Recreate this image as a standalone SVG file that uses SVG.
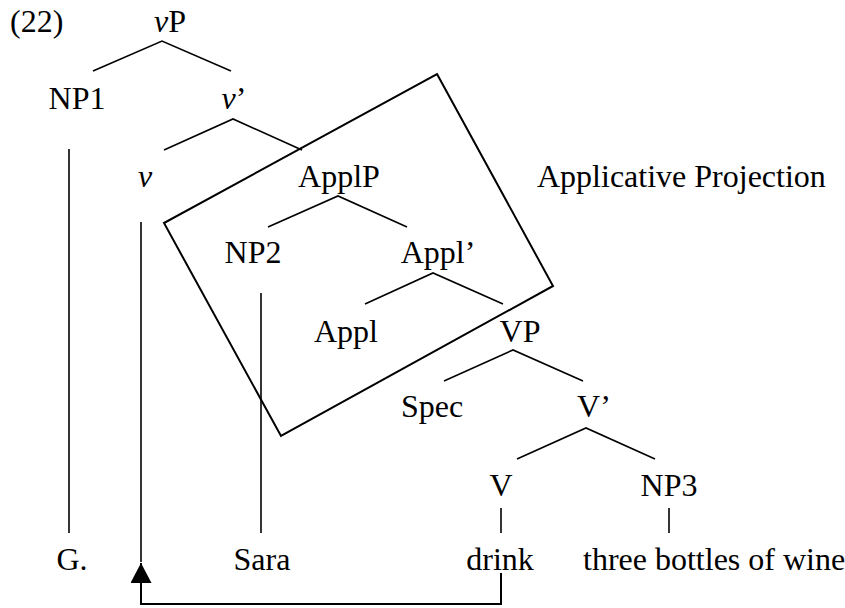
<svg xmlns="http://www.w3.org/2000/svg" width="845" height="608" viewBox="0 0 845 608">
  <style>
    text { font-family: 'Liberation Serif', 'Times New Roman', serif !important; font-size: 32px; fill: #000; }
    .c { text-anchor: middle; }
    .it { font-style: italic; }
  </style>
  <defs>
    <marker id="head" markerUnits="userSpaceOnUse" markerWidth="20" markerHeight="21" refX="20" refY="10.5" orient="auto">
      <path d="M0,0 L20,10.5 L0,21 Z" fill="#000"/>
    </marker>
  </defs>
  <rect width="845" height="608" fill="#fff"/>

  <text x="10" y="32" font-family="Liberation Serif, serif">(22)</text>

  <!-- applicative projection frame -->
  <g id="applicative-frame">
    <polygon points="437,74 553,286 281,436 164,223" fill="none" stroke="#000" stroke-width="2"/>
    <text x="537" y="187" font-family="Liberation Serif, serif">Applicative Projection</text>
  </g>

  <!-- tree nodes -->
  <g id="vP"><text class="c" x="170" y="32" font-family="Liberation Serif, serif"><tspan class="it">v</tspan>P</text></g>
  <g id="NP1"><text class="c" x="77" y="109" font-family="Liberation Serif, serif">NP1</text></g>
  <g id="v-bar"><text class="c" x="234" y="109" font-family="Liberation Serif, serif"><tspan class="it">v</tspan>&#8217;</text></g>
  <g id="v"><text class="c it" x="145" y="187" font-family="Liberation Serif, serif">v</text></g>
  <g id="ApplP"><text class="c" x="339" y="187" font-family="Liberation Serif, serif">ApplP</text></g>
  <g id="NP2"><text class="c" x="253" y="263" font-family="Liberation Serif, serif">NP2</text></g>
  <g id="Appl-bar"><text class="c" x="438" y="263" font-family="Liberation Serif, serif">Appl&#8217;</text></g>
  <g id="Appl"><text class="c" x="346" y="342" font-family="Liberation Serif, serif">Appl</text></g>
  <g id="VP"><text class="c" x="520" y="342" font-family="Liberation Serif, serif">VP</text></g>
  <g id="Spec"><text class="c" x="432" y="417" font-family="Liberation Serif, serif">Spec</text></g>
  <g id="V-bar"><text class="c" x="594" y="417" font-family="Liberation Serif, serif">V&#8217;</text></g>
  <g id="V"><text class="c" x="501" y="496" font-family="Liberation Serif, serif">V</text></g>
  <g id="NP3"><text class="c" x="669" y="496" font-family="Liberation Serif, serif">NP3</text></g>

  <!-- terminals -->
  <g id="G"><text class="c" x="72" y="570" font-family="Liberation Serif, serif">G.</text></g>
  <g id="Sara"><text class="c" x="262" y="570" font-family="Liberation Serif, serif">Sara</text></g>
  <g id="drink"><text class="c" x="500" y="570" font-family="Liberation Serif, serif">drink</text></g>
  <g id="wine"><text x="583" y="570" font-family="Liberation Serif, serif">three bottles of wine</text></g>

  <!-- branches and movement arrow -->
  <g id="connectors" fill="none" stroke="#000" stroke-width="1.6">
    <path d="M93,71 L162,41 L231,71"/>
    <path d="M164,150 L233,119 L302,150"/>
    <path d="M268,227 L338,196 L407,227"/>
    <path d="M365,304 L433,273 L503,304"/>
    <path d="M444,381 L513,350 L583,381"/>
    <path d="M517,459 L586,428 L655,459"/>
    <path d="M69,149 V533"/>
    <path d="M141,222 V562"/>
    <path d="M261,293 V533"/>
    <path d="M501,508 V533"/>
    <path d="M669,508 V533"/>
    <path d="M501,573 V604 H141 V563" stroke-width="2" marker-end="url(#head)"/>
  </g>
</svg>
